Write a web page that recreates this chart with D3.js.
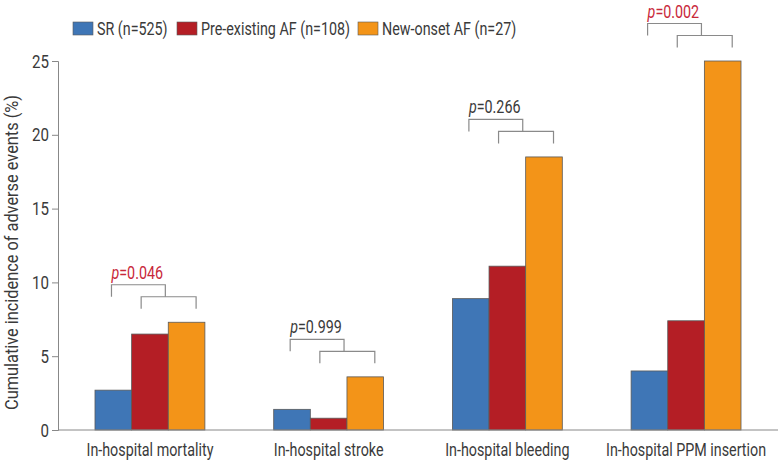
<!DOCTYPE html>
<html>
<head>
<meta charset="utf-8">
<script src="https://cdn.jsdelivr.net/npm/d3@7"></script>
<style>
  body { margin: 0; background: #fff; }
  svg text { font-family: "Roboto", "Liberation Sans", sans-serif; font-weight: 400; fill: #3a3a3a; }
</style>
</head>
<body>
<div id="chart"></div>
<script>
const categories = ["In-hospital mortality", "In-hospital stroke", "In-hospital bleeding", "In-hospital PPM insertion"];
const seriesNames = ["SR (n=525)", "Pre-existing AF (n=108)", "New-onset AF (n=27)"];
const srValues = [2.7, 1.4, 8.9, 4.0];
const preAfValues = [6.5, 0.8, 11.1, 7.4];
const newAfValues = [7.3, 3.6, 18.5, 25.0];
const pValues = ["0.046", "0.999", "0.266", "0.002"];
const pSignificant = [true, false, false, true];
const yTicks = [0, 5, 10, 15, 20, 25];

const width = 781, height = 463;
const margin = {top: 61, right: 3, bottom: 33, left: 58};
const colors = ["#3f76b6", "#b41e25", "#f39418"];
const fontSize = "18px";

const svg = d3.select("#chart").append("svg")
    .attr("width", width)
    .attr("height", height);

// the original uses a condensed face; squeeze the installed one to match
const probe = svg.append("text").style("font-size", fontSize).text("In-hospital mortality");
const squeeze = 127 / probe.node().getComputedTextLength();
probe.remove();

function condense(sel, k) {
    k = k || squeeze;
    sel.each(function () {
        const t = d3.select(this);
        const tx = +t.attr("x") || 0, ty = +t.attr("y") || 0;
        t.attr("x", null).attr("y", null)
            .attr("transform", "translate(" + tx + "," + ty + ") scale(" + k + ",1)");
    });
}

const x = d3.scaleBand()
    .domain(categories)
    .range([margin.left, width - margin.right])
    .paddingInner(0.385)
    .paddingOuter(0.207);

const x1 = d3.scaleBand()
    .domain(seriesNames)
    .range([0, x.bandwidth()]);

const y = d3.scaleLinear()
    .domain([0, 25])
    .range([height - margin.bottom, margin.top]);

const rows = categories.map((c, i) => ({
    cat: c,
    vals: [srValues[i], preAfValues[i], newAfValues[i]]
}));

// bars
const groups = svg.selectAll("g.grp")
    .data(rows)
    .enter().append("g")
    .attr("class", "grp")
    .attr("transform", d => "translate(" + x(d.cat) + ",0)");

groups.selectAll("rect")
    .data(d => d.vals.map((v, j) => ({name: seriesNames[j], value: v, j: j})))
    .enter().append("rect")
    .attr("x", d => x1(d.name))
    .attr("y", d => y(d.value))
    .attr("width", x1.bandwidth())
    .attr("height", d => y(0) - y(d.value))
    .attr("fill", d => colors[d.j])
    .attr("stroke", "#5a5a5a")
    .attr("stroke-width", 0.8);

// axes
const yAxis = svg.append("g")
    .attr("transform", "translate(" + margin.left + ",0)")
    .call(d3.axisLeft(y).tickValues(yTicks).tickSize(6).tickPadding(3));
yAxis.select(".domain").attr("stroke", "#888");
yAxis.selectAll(".tick line").attr("stroke", "#888");
yAxis.selectAll(".tick text")
    .style("font-size", "19px")
    .style("font-family", null)
    .attr("fill", "#3a3a3a")
    .call(condense);

svg.append("line")
    .attr("x1", margin.left).attr("x2", width - margin.right)
    .attr("y1", y(0)).attr("y2", y(0))
    .attr("stroke", "#888");

svg.selectAll("text.cat")
    .data(categories)
    .enter().append("text")
    .attr("class", "cat")
    .attr("x", d => x(d) + x.bandwidth() / 2)
    .attr("y", height - 7)
    .attr("text-anchor", "middle")
    .style("font-size", fontSize)
    .text(d => d)
    .call(condense);

const yTitle = svg.append("text")
    .attr("text-anchor", "middle")
    .style("font-size", "17.5px")
    .text("Cumulative incidence of adverse events (%)");
const yTitleK = 315 / yTitle.node().getComputedTextLength();
yTitle.attr("transform", "translate(18," + (margin.top + (y(0) - margin.top) / 2 + 7) + ") rotate(-90) scale(" + yTitleK + ",1)");

// legend
const legend = svg.append("g");
const legendX = [73, 177, 358];
seriesNames.forEach((name, j) => {
    legend.append("rect")
        .attr("x", legendX[j]).attr("y", 22)
        .attr("width", 20).attr("height", 13)
        .attr("fill", colors[j])
        .attr("stroke", "#5a5a5a").attr("stroke-width", 0.6);
    legend.append("text")
        .attr("x", legendX[j] + 24).attr("y", 34.5)
        .style("font-size", fontSize)
        .text(name)
        .call(condense);
});

// p-value brackets
const legA = 0.15, legB = 0.42, legC = 0.92, legMid = 0.64;
rows.forEach((d, i) => {
    const bx = x(d.cat), bw = x.bandwidth();
    const top = y(d3.max(d.vals));
    const legBottom = top - 13.5;
    const lowerY = legBottom - 12;
    const upperY = lowerY - 12;
    const g = svg.append("g")
        .attr("fill", "none")
        .attr("stroke", "#8a8a8a")
        .attr("stroke-width", 1.2);
    g.append("path")
        .attr("d", d3.line()([[bx + legB * bw, legBottom], [bx + legB * bw, lowerY], [bx + legC * bw, lowerY], [bx + legC * bw, legBottom]]));
    g.append("path")
        .attr("d", d3.line()([[bx + legA * bw, lowerY], [bx + legA * bw, upperY], [bx + legMid * bw, upperY], [bx + legMid * bw, lowerY]]));

    const col = pSignificant[i] ? "#c8283a" : "#3a3a3a";
    const t = svg.append("text")
        .attr("x", bx + legA * bw)
        .attr("y", upperY - 6)
        .style("font-size", fontSize)
        .style("fill", col);
    t.append("tspan").style("font-style", "italic").text("p");
    t.append("tspan").text("=" + pValues[i]);
    t.call(condense);
});
</script>
</body>
</html>
